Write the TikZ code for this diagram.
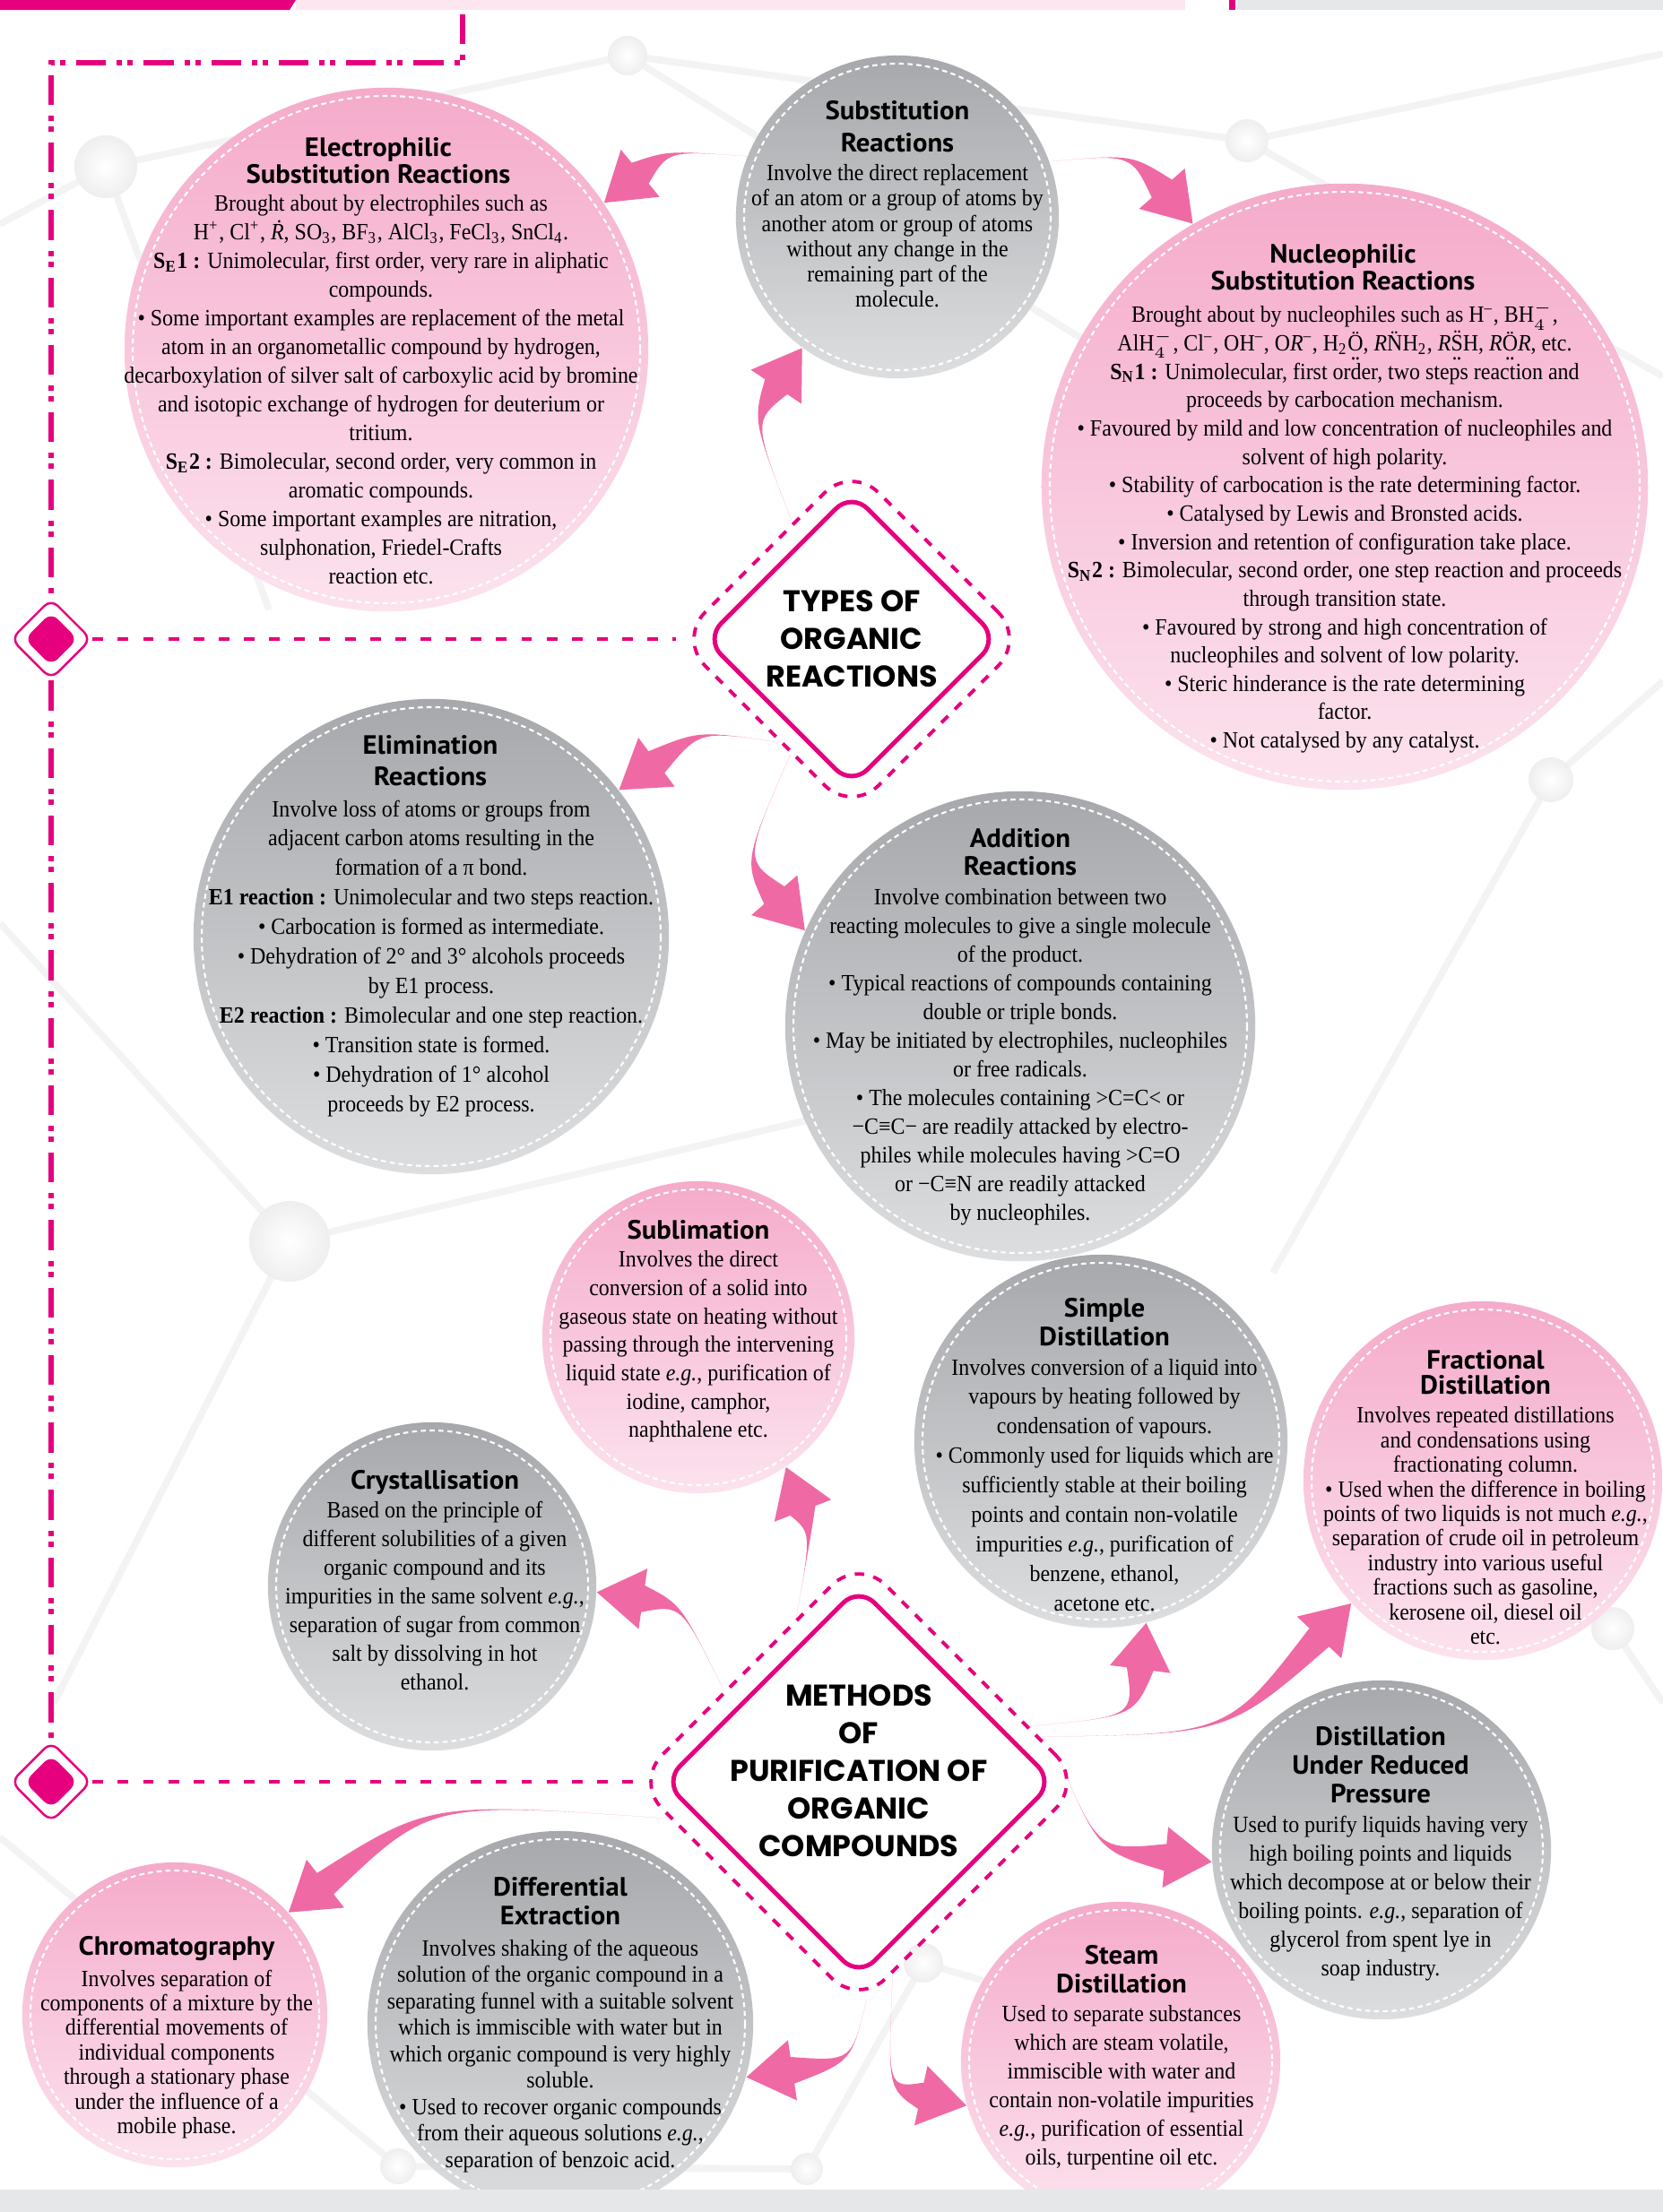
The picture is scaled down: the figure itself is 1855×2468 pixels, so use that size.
\documentclass[tikz,border=0pt]{standalone}
\usepackage{fontspec}
\setmainfont{Liberation Serif}[FakeStretch=0.92]
\newfontfamily\headfont{PT Sans}[FakeStretch=1.04]
\newfontfamily\titlefont{Poppins}
\usetikzlibrary{shapes.geometric, arrows.meta, positioning, calc}

\definecolor{brandmag}{HTML}{E6007E}
\definecolor{arrowpink}{HTML}{EF6AA4}
\definecolor{pinktop}{HTML}{F5ABCB}
\definecolor{pinkbot}{HTML}{FCE3EE}
\definecolor{greytop}{HTML}{A6A8AB}
\definecolor{greybot}{HTML}{DDDEE0}
\definecolor{barpink}{HTML}{FDE6EF}
\definecolor{bargrey}{HTML}{E6E7E8}
\definecolor{netgrey}{HTML}{F3F3F4}

\newcommand\chsub[1]{\textsubscript{#1}}
\newcommand\chsup[1]{\textsuperscript{#1}}
% letter with a lone pair above and below
\newcommand\lpair[1]{\ooalign{\"#1\cr\hidewidth\raisebox{-0.8ex}{.\kern-0.04em.}\hidewidth\cr}}

\tikzset{
  pinkbubble/.style = {circle, top color=pinktop, bottom color=pinkbot, inner sep=0pt},
  greybubble/.style = {circle, top color=greytop, bottom color=greybot, inner sep=0pt},
  stitch/.style     = {white, line width=0.6pt, dash pattern=on 1.6pt off 1.2pt},
  head/.style       = {font=\headfont\bfseries\fontsize{8.4}{#1}\selectfont,
                       align=center, inner sep=0pt, anchor=north},
  head/.default     = 9.1pt,
  body/.style       = {font=\fontsize{7.4}{#1}\selectfont, align=center,
                       inner sep=0pt, anchor=north},
  hub/.style        = {diamond, aspect=1, draw=brandmag, line width=1.4pt,
                       fill=white, inner sep=0pt, rounded corners=7pt},
  hubring/.style    = {diamond, aspect=1, draw=brandmag, line width=1.1pt,
                       dash pattern=on 3pt off 3pt, inner sep=0pt, rounded corners=12pt},
  hubtitle/.style   = {font=\titlefont\bfseries\fontsize{9.5}{11.9}\selectfont, align=center},
  marker/.style     = {diamond, aspect=1, draw=brandmag, line width=0.7pt, fill=white,
                       minimum size=0.9cm, inner sep=0pt, rounded corners=3pt},
  markercore/.style = {diamond, aspect=1, fill=brandmag, minimum size=0.6cm,
                       inner sep=0pt, rounded corners=3pt},
  framedash/.style  = {brandmag, line width=1.5pt,
                       dash pattern=on 9.5pt off 3.4pt on 1.7pt off 1.7pt on 1.7pt off 3.4pt},
  linkdash/.style   = {brandmag, line width=1.4pt, dash pattern=on 3.4pt off 4.6pt},
  net/.style        = {netgrey, line width=2.2pt}
}

% bubble: name, style, x, y, radius (px)
\newcommand\bubble[5]{%
  \node[#2, minimum size=#5*0.02cm] (#1) at (#3,#4) {};
  \draw[stitch] (#1.center) circle[radius=#5-9];
}

% tapered bent arrow: tail, bend control, tip
\newcommand\bentarrow[3]{%
  \coordinate (arrowbase) at ($#3!0.52cm!#2$);
  \fill[arrowpink] #1 .. controls #2 .. ($(arrowbase)!0.15cm!90:#2$)
    -- ($(arrowbase)!0.34cm!90:#2$) -- #3 -- ($(arrowbase)!0.34cm!-90:#2$)
    -- ($(arrowbase)!0.15cm!-90:#2$) .. controls #2 .. #1 -- cycle;
}

\begin{document}
\begin{tikzpicture}[x=0.01cm, y=-0.01cm]
  \useasboundingbox (0,0) rectangle (1855,2468);

  % faint molecule web behind everything
  \draw[net] (0,250) -- (118,186) -- (700,62) -- (1391,157) -- (1855,60);
  \draw[net] (118,186) -- (300,680);
  \draw[net] (700,62) -- (1210,380);
  \draw[net] (1391,157) -- (1855,420);
  \draw[net] (0,1030) -- (323,1385) -- (900,1250);
  \draw[net] (323,1385) -- (60,1900);
  \draw[net] (1730,870) -- (1855,760);
  \draw[net] (1730,870) -- (1420,1420);
  \draw[net] (1799,1817) -- (1855,1900);
  \draw[net] (1030,2190) -- (1400,2300);
  \draw[net] (0,2050) -- (444,2417) -- (900,2420) -- (1030,2190);
  \shade[inner color=white, outer color=gray!13] (118,186) circle[radius=35];
  \shade[inner color=white, outer color=gray!13] (700,62) circle[radius=22];
  \shade[inner color=white, outer color=gray!13] (1391,157) circle[radius=24];
  \shade[inner color=white, outer color=gray!13] (323,1385) circle[radius=45];
  \shade[inner color=white, outer color=gray!13] (1730,870) circle[radius=25];
  \shade[inner color=white, outer color=gray!13] (1799,1817) circle[radius=24];
  \shade[inner color=white, outer color=gray!13] (1030,2190) circle[radius=22];
  \shade[inner color=white, outer color=gray!13] (444,2417) circle[radius=20];
  \shade[inner color=white, outer color=gray!13] (900,2420) circle[radius=18];

  % top strip
  \fill[brandmag] (0,0) -- (330,0) -- (323,11) -- (0,11) -- cycle;
  \fill[barpink] (330,0) rectangle (1322,11);
  \fill[brandmag] (1371,0) rectangle (1378,11);
  \fill[bargrey] (1380,0) rectangle (1855,11);

  % frame and markers
  \node[marker] (mark1) at (57,713) {};
  \node[markercore] (mark1core) at (mark1) {};
  \node[marker] (mark2) at (57,1988) {};
  \node[markercore] (mark2core) at (mark2) {};
  \draw[framedash] (516,16) -- (516,70) -- (57,70) -- (mark1.north);
  \draw[framedash] (mark1.south) -- (mark2.north);

  % bubbles
  \bubble{subst}{greybubble}{1001}{242}{180}
  \bubble{elec}{pinkbubble}{431}{390}{292}
  \bubble{nucleo}{pinkbubble}{1500}{543}{338}
  \bubble{elim}{greybubble}{481}{1045}{265}
  \bubble{add}{greybubble}{1138}{1145}{262}
  \bubble{subl}{pinkbubble}{779}{1492}{174}
  \bubble{simple}{greybubble}{1228}{1608}{208}
  \bubble{frac}{pinkbubble}{1654}{1652}{200}
  \bubble{cryst}{greybubble}{482}{1770}{183}
  \bubble{red}{greybubble}{1541}{2064}{189}
  \bubble{chroma}{pinkbubble}{195}{2248}{170}
  \bubble{diff}{greybubble}{625}{2258}{215}
  \bubble{steam}{pinkbubble}{1250}{2300}{178}

  % the two hubs
  \node[hubring, minimum width=3.88cm, minimum height=3.88cm] (typesring) at (950,713) {};
  \node[hub, minimum width=3.28cm, minimum height=3.28cm] (types) at (typesring) {};
  \node[hubtitle] (typestitle) at (types) {TYPES OF\\ORGANIC\\REACTIONS};
  \node[hubring, minimum width=5cm, minimum height=5cm] (methodsring) at (958,1988) {};
  \node[hub, minimum width=4.36cm, minimum height=4.36cm] (methods) at (methodsring) {};
  \node[hubtitle, yshift=3.5pt] (methodstitle) at (methods)
    {METHODS\\OF\\PURIFICATION OF\\ORGANIC\\COMPOUNDS};
  \draw[linkdash] (mark1.east) -- (typesring.west);
  \draw[linkdash] (mark2.east) -- (methodsring.west);

  % arrows
  \bentarrow{(subst.158)}{(745,168)}{(elec.34)}
  \bentarrow{(subst.20)}{(1262,172)}{(nucleo.120)}
  \bentarrow{(typesring.117)}{(840,470)}{(subst.234)}
  \bentarrow{(typesring.-125)}{(780,815)}{(elim.38)}
  \bentarrow{(typesring.-118)}{(830,960)}{(add.156)}
  \bentarrow{(methodsring.111)}{(905,1710)}{(subl.-56)}
  \bentarrow{(methodsring.146)}{(760,1790)}{(cryst.-2)}
  \bentarrow{(methodsring.18)}{(1265,1915)}{(simple.-76)}
  \bentarrow{(methodsring.14)}{(1370,1935)}{(frac.-137)}
  \bentarrow{(methodsring.8)}{(1225,2065)}{(red.184)}
  \bentarrow{(methodsring.-169)}{(480,2010)}{(chroma.42)}
  \bentarrow{(methodsring.-88)}{(950,2300)}{(diff.-16)}
  \bentarrow{(methodsring.-80)}{(990,2330)}{(steam.196)}

  % texts
  \node[head=10.2pt] (substhead) at (1001,112) {Substitution\\Reactions};
  \node[body=8pt] (substtext) at (1001,183)
    {Involve the direct replacement\\of an atom or a group of atoms by\\another atom or group of atoms\\
     without any change in the\\remaining part of the\\molecule.};

  \node[head=8.5pt] (elechead) at (422,153) {Electrophilic\\Substitution Reactions};
  \node[body=9.1pt] (electext) at (425,217)
    {Brought about by electrophiles such as\\
     H\chsup{+}, Cl\chsup{+}, \textit{\.R}, SO\chsub{3}, BF\chsub{3}, AlCl\chsub{3}, FeCl\chsub{3}, SnCl\chsub{4}.\\
     \textbf{S\chsub{E}1 :} Unimolecular, first order, very rare in aliphatic\\
     compounds.\\
     \textbullet\ Some important examples are replacement of the metal\\
     atom in an organometallic compound by hydrogen,\\
     decarboxylation of silver salt of carboxylic acid by bromine\\
     and isotopic exchange of hydrogen for deuterium or\\
     tritium.\\
     \textbf{S\chsub{E}2 :} Bimolecular, second order, very common in\\
     aromatic compounds.\\
     \textbullet\ Some important examples are nitration,\\
     sulphonation, Friedel-Crafts\\
     reaction etc.};

  \node[head=8.5pt] (nucleohead) at (1498,272) {Nucleophilic\\Substitution Reactions};
  \node[body=9pt] (nucleotext) at (1500,336)
    {Brought about by nucleophiles such as H\chsup{--}, BH$_4^-$,\\
     AlH$_4^-$, Cl\chsup{--}, OH\chsup{--}, O\textit{R}\chsup{--}, H\chsub{2}\lpair{O}, \textit{R}\"NH\chsub{2}, \textit{R}\lpair{S}H, \textit{R}\lpair{O}\textit{R}, etc.\\
     \textbf{S\chsub{N}1 :} Unimolecular, first order, two steps reaction and\\
     proceeds by carbocation mechanism.\\
     \textbullet\ Favoured by mild and low concentration of nucleophiles and\\
     solvent of high polarity.\\
     \textbullet\ Stability of carbocation is the rate determining factor.\\
     \textbullet\ Catalysed by Lewis and Bronsted acids.\\
     \textbullet\ Inversion and retention of configuration take place.\\
     \textbf{S\chsub{N}2 :} Bimolecular, second order, one step reaction and proceeds\\
     through transition state.\\
     \textbullet\ Favoured by strong and high concentration of\\
     nucleophiles and solvent of low polarity.\\
     \textbullet\ Steric hinderance is the rate determining\\
     factor.\\
     \textbullet\ Not catalysed by any catalyst.};

  \node[head=10pt] (elimhead) at (480,820) {Elimination\\Reactions};
  \node[body=9.36pt] (elimtext) at (481,892)
    {Involve loss of atoms or groups from\\
     adjacent carbon atoms resulting in the\\
     formation of a π bond.\\
     \textbf{E1 reaction :} Unimolecular and two steps reaction.\\
     \textbullet\ Carbocation is formed as intermediate.\\
     \textbullet\ Dehydration of 2° and 3° alcohols proceeds\\
     by E1 process.\\
     \textbf{E2 reaction :} Bimolecular and one step reaction.\\
     \textbullet\ Transition state is formed.\\
     \textbullet\ Dehydration of 1° alcohol\\
     proceeds by E2 process.};

  \node[head=8.8pt] (addhead) at (1138,924) {Addition\\Reactions};
  \node[body=9.1pt] (addtext) at (1138,991)
    {Involve combination between two\\
     reacting molecules to give a single molecule\\
     of the product.\\
     \textbullet\ Typical reactions of compounds containing\\
     double or triple bonds.\\
     \textbullet\ May be initiated by electrophiles, nucleophiles\\
     or free radicals.\\
     \textbullet\ The molecules containing >C=C< or\\
     −C≡C− are readily attacked by electro-\\
     philes while molecules having >C=O\\
     or −C≡N are readily attacked\\
     by nucleophiles.};

  \node[head] (sublhead) at (779,1361) {Sublimation};
  \node[body=9pt] (subltext) at (779,1395)
    {Involves the direct\\conversion of a solid into\\gaseous state on heating without\\
     passing through the intervening\\liquid state \textit{e.g.}, purification of\\
     iodine, camphor,\\naphthalene etc.};

  \node[head] (simplehead) at (1232,1448) {Simple\\Distillation};
  \node[body=9.35pt] (simpletext) at (1232,1515)
    {Involves conversion of a liquid into\\vapours by heating followed by\\
     condensation of vapours.\\
     \textbullet\ Commonly used for liquids which are\\sufficiently stable at their boiling\\
     points and contain non-volatile\\impurities \textit{e.g.}, purification of\\
     benzene, ethanol,\\acetone etc.};

  \node[head=7.8pt] (frachead) at (1657,1506) {Fractional\\Distillation};
  \node[body=7.8pt] (fractext) at (1657,1569)
    {Involves repeated distillations\\and condensations using\\fractionating column.\\
     \textbullet\ Used when the difference in boiling\\points of two liquids is not much \textit{e.g.},\\
     separation of crude oil in petroleum\\industry into various useful\\
     fractions such as gasoline,\\kerosene oil, diesel oil\\etc.};

  \node[head] (crysthead) at (485,1640) {Crystallisation};
  \node[body=9.1pt] (crysttext) at (485,1674)
    {Based on the principle of\\different solubilities of a given\\organic compound and its\\
     impurities in the same solvent \textit{e.g.},\\separation of sugar from common\\
     salt by dissolving in hot\\ethanol.};

  \node[head] (redhead) at (1540,1926) {Distillation\\Under Reduced\\Pressure};
  \node[body=9.1pt] (redtext) at (1540,2025)
    {Used to purify liquids having very\\high boiling points and liquids\\
     which decompose at or below their\\boiling points. \textit{e.g.}, separation of\\
     glycerol from spent lye in\\soap industry.};

  \node[head] (chromahead) at (197,2160) {Chromatography};
  \node[body=7.8pt] (chromatext) at (197,2197)
    {Involves separation of\\components of a mixture by the\\differential movements of\\
     individual components\\through a stationary phase\\under the influence of a\\mobile phase.};

  \node[head] (diffhead) at (625,2094) {Differential\\Extraction};
  \node[body=8.4pt] (difftext) at (625,2163)
    {Involves shaking of the aqueous\\solution of the organic compound in a\\
     separating funnel with a suitable solvent\\which is immiscible with water but in\\
     which organic compound is very highly\\soluble.\\
     \textbullet\ Used to recover organic compounds\\from their aqueous solutions \textit{e.g.},\\
     separation of benzoic acid.};

  \node[head] (steamhead) at (1251,2170) {Steam\\Distillation};
  \node[body=9.1pt] (steamtext) at (1251,2237)
    {Used to separate substances\\which are steam volatile,\\immiscible with water and\\
     contain non-volatile impurities\\\textit{e.g.}, purification of essential\\
     oils, turpentine oil etc.};

  % bottom strip
  \fill[bargrey] (0,2443) rectangle (1855,2468);
\end{tikzpicture}
\end{document}
